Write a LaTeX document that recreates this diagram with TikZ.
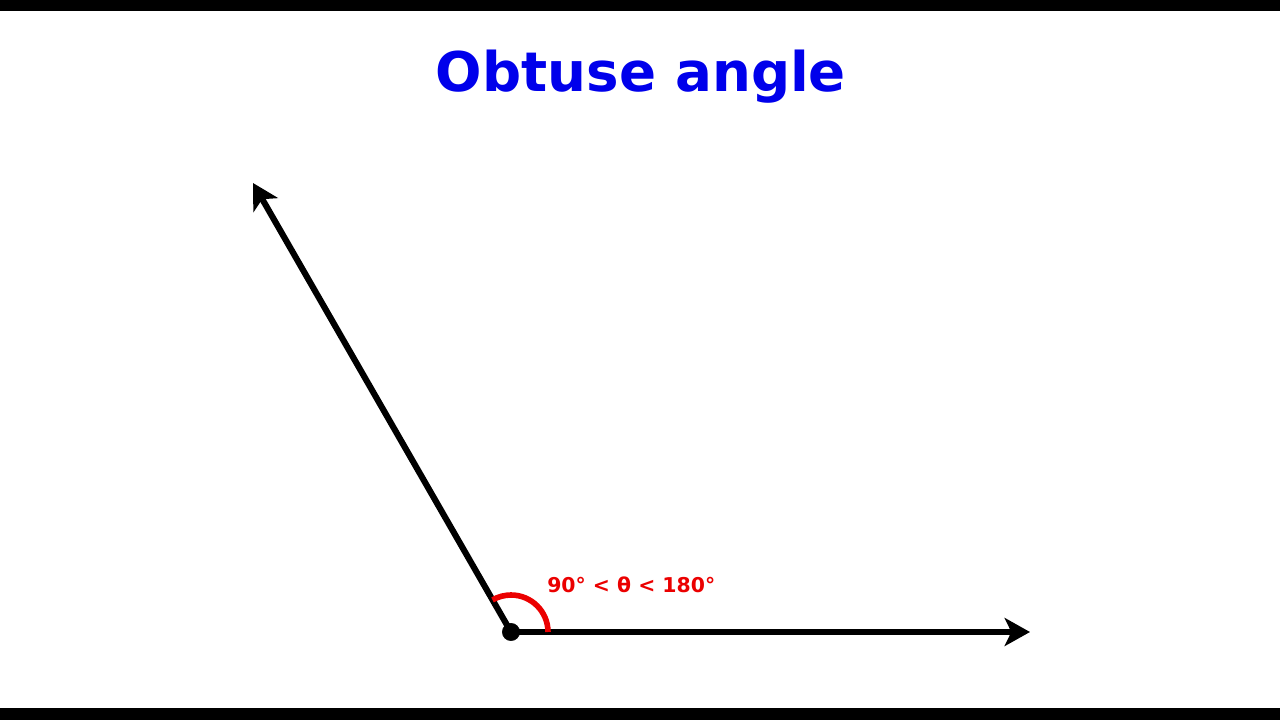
\documentclass[tikz,border=0pt]{standalone}
\usepackage{fontspec}
\setmainfont{DejaVu Sans}
\usepackage{tikz}
\usetikzlibrary{arrows.meta}
\definecolor{titleblue}{RGB}{0,0,235}
\definecolor{anglered}{RGB}{235,0,0}

\begin{document}
\begin{tikzpicture}[x=0.75pt,y=-0.75pt]
	\useasboundingbox (0,0) rectangle (1280,720);
	\fill[black] (0,0) rectangle (1280,11);
	\fill[black] (0,708) rectangle (1280,720);

	\node[anchor=base,text=titleblue,font=\fontsize{41}{48}\selectfont\bfseries,inner sep=0] (title) at (641,92) {Obtuse angle};

	\begin{scope}[every node/.style={circle,draw, fill= black, inner sep = 0pt, minimum size=13pt}]
		\node (O) at (511,632) {};
	\end{scope}
	\coordinate (A) at (253,183);
	\coordinate (B) at (1030,632);

	\begin{scope}[>={Stealth[black,length=19pt,width=21pt,inset=5pt]},
	              every edge/.style={draw=black,line width=4.6pt}]
		\path (O.center) edge[->] (A);
		\path (O.center) edge[->] (B);
	\end{scope}

	\draw[anglered,line width=4.2pt] ([shift={(37,0)}]O.center) arc[start angle=0,end angle=120,radius=27.75pt];
	\node[anchor=base west,text=anglered,font=\fontsize{15.3}{18}\selectfont\bfseries,inner sep=0] (theta) at (547,592) {90° < θ < 180°};
\end{tikzpicture}
\end{document}
